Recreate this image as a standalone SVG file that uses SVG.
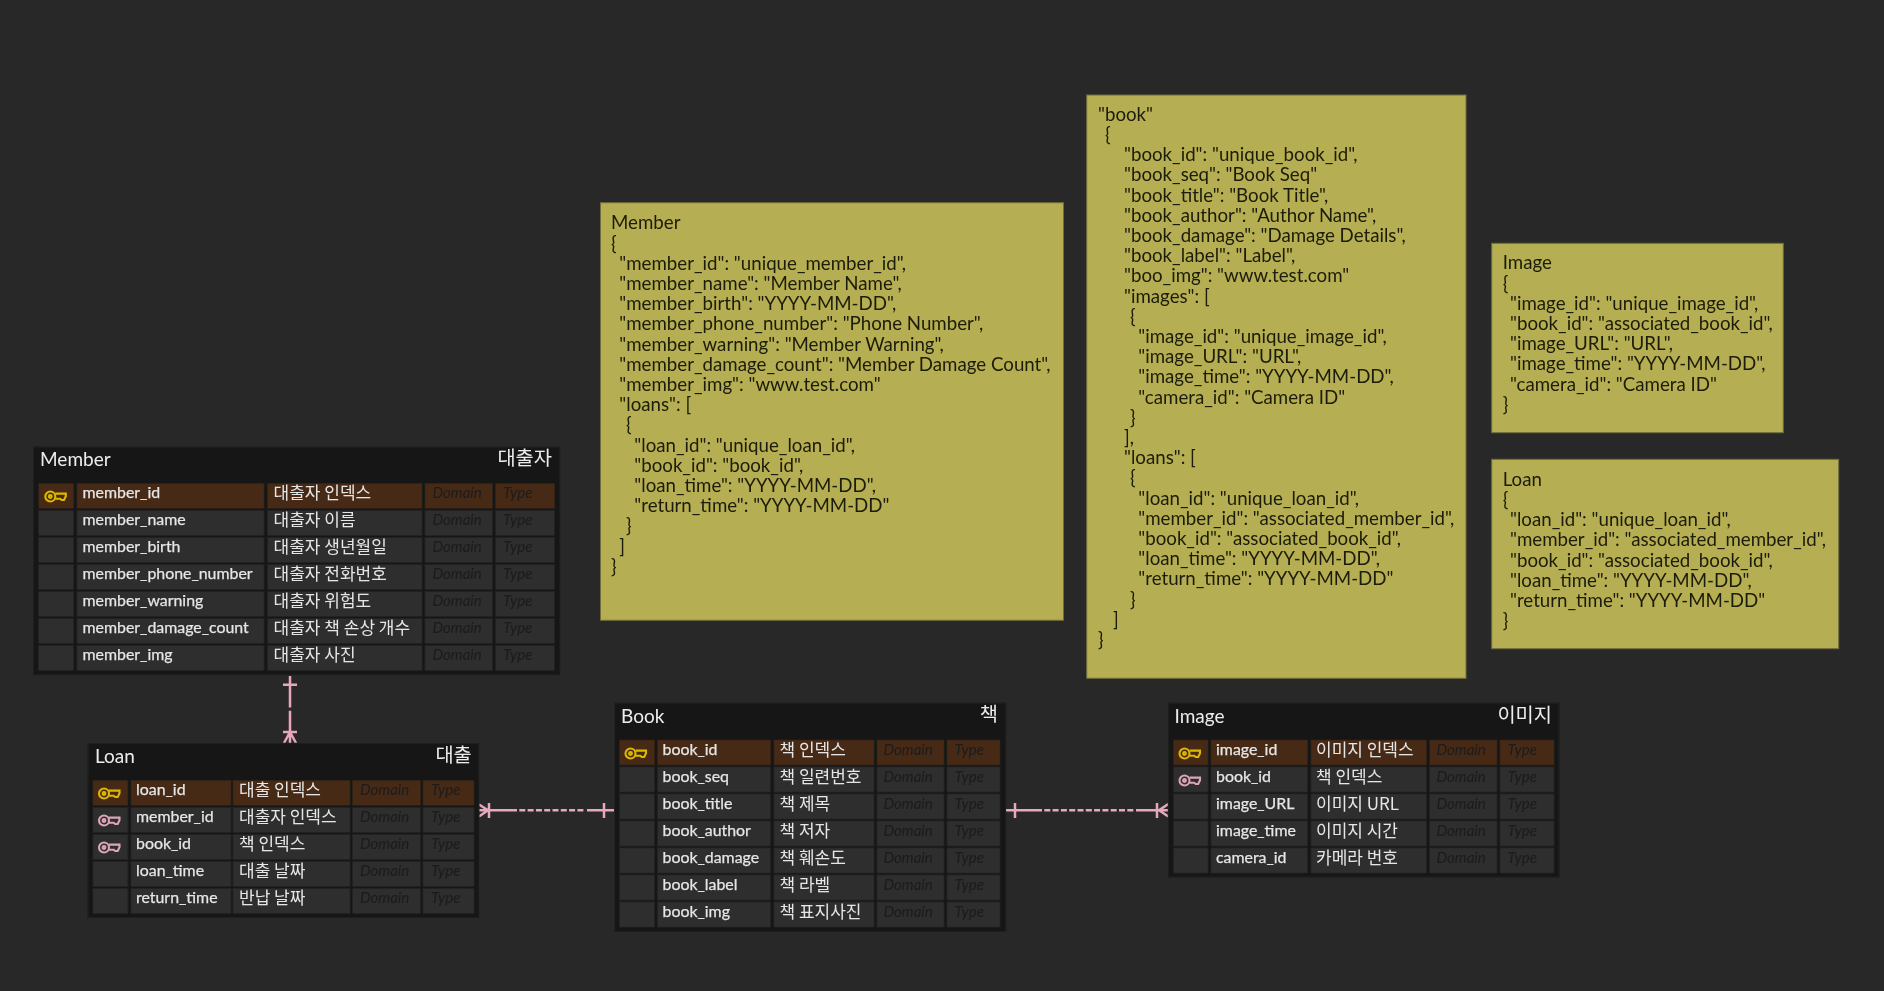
<svg xmlns="http://www.w3.org/2000/svg" width="1884" height="991" viewBox="0 0 1884 991">
<style>
text{font-family:"Lato","Noto Sans CJK KR",sans-serif;white-space:pre}
.tb{fill:#191919;stroke:#202020;stroke-width:1}
.c{fill:#2d2d2d;stroke:#222;stroke-width:.5}
.p{fill:#472a17;stroke:#2e2017;stroke-width:.5}
.t{font-size:19px;fill:#ececec}
.k{font-size:19.8px;fill:#ececec;text-anchor:end;font-family:"Noto Sans CJK KR",sans-serif}
.n{font-size:15.9px;fill:#e6e6e6;stroke:#e6e6e6;stroke-width:.25}
.m{font-size:17px;fill:#e6e6e6;font-family:"Noto Sans CJK KR",sans-serif}
.d{font-size:15px;fill:#1c1c1c;font-style:italic}
.note{fill:#b5ae52;stroke:#6f6c3e;stroke-width:1}
.j{font-size:18.7px;fill:#1d1c08}
.con{fill:none;stroke:#e8a8bb;stroke-width:2.5}
.yk{color:#dcb900}
.fk{color:#dba6b6}
</style>
<defs>
<filter id="soft" filterUnits="userSpaceOnUse" x="0" y="0" width="1884" height="991"><feGaussianBlur stdDeviation="0.45"/></filter>
<g id="key" fill="none" stroke="currentColor" stroke-width="2.1">
<circle cx="6" cy="6.5" r="5"/><circle cx="6" cy="6.5" r="1.4"/>
<path d="M11 3.6H21.5V6.2L19.7 10H17.2L15.8 8.8H11"/>
</g>
</defs>
<rect width="1884" height="991" fill="#282828"/>
<g filter="url(#soft)">

<g id="connectors" class="con">
<g id="member-loan">
<path d="M290 676V707.5M290 710.8V743M283 684.7H297M283 732H297M290 732L284 743M290 732L296 743"/>
</g>
<g id="loan-book">
<path d="M479 810.3H511M587 810.3H614.5M604 803V818M489 803V818M488 810.3L479 804.5M488 810.3L479 816.5"/>
<path d="M511 810.3H585" stroke-dasharray="6 2.3"/>
</g>
<g id="book-image">
<path d="M1005.6 810.3H1036M1136 810.3H1168.3M1015 803V818M1157 803V818M1159 810.3L1168.3 804M1159 810.3L1168.3 816.5"/>
<path d="M1036 810.3H1134" stroke-dasharray="6 2.3"/>
</g>
</g>

<g id="note-member">
<rect class="note" x="600.5" y="202.7" width="463" height="417.6"/>
<text class="j" x="611" y="229.3">Member</text>
<text class="j" x="611" y="249.5">{</text>
<text class="j" x="619.3" y="269.7">"member_id": "unique_member_id",</text>
<text class="j" x="619.3" y="289.9">"member_name": "Member Name",</text>
<text class="j" x="619.3" y="310.1">"member_birth": "YYYY-MM-DD",</text>
<text class="j" x="619.3" y="330.3">"member_phone_number": "Phone Number",</text>
<text class="j" x="619.3" y="350.5">"member_warning": "Member Warning",</text>
<text class="j" x="619.3" y="370.7">"member_damage_count": "Member Damage Count",</text>
<text class="j" x="619.3" y="390.9">"member_img": "www.test.com"</text>
<text class="j" x="619.3" y="411.1">"loans": [</text>
<text class="j" x="626" y="431.3">{</text>
<text class="j" x="634.3" y="451.5">"loan_id": "unique_loan_id",</text>
<text class="j" x="634.3" y="471.7">"book_id": "book_id",</text>
<text class="j" x="634.3" y="491.9">"loan_time": "YYYY-MM-DD",</text>
<text class="j" x="634.3" y="512.1">"return_time": "YYYY-MM-DD"</text>
<text class="j" x="626" y="532.3">}</text>
<text class="j" x="619.3" y="552.5">]</text>
<text class="j" x="611" y="572.7">}</text>
</g>

<g id="note-book">
<rect class="note" x="1086.7" y="95" width="379.3" height="583.3"/>
<text class="j" x="1098" y="120.7">"book"</text>
<text class="j" x="1105" y="140.9">{</text>
<text class="j" x="1124" y="161.1">"book_id": "unique_book_id",</text>
<text class="j" x="1124" y="181.3">"book_seq": "Book Seq"</text>
<text class="j" x="1124" y="201.5">"book_title": "Book Title",</text>
<text class="j" x="1124" y="221.7">"book_author": "Author Name",</text>
<text class="j" x="1124" y="241.9">"book_damage": "Damage Details",</text>
<text class="j" x="1124" y="262.1">"book_label": "Label",</text>
<text class="j" x="1124" y="282.3">"boo_img": "www.test.com"</text>
<text class="j" x="1124" y="302.5">"images": [</text>
<text class="j" x="1130" y="322.7">{</text>
<text class="j" x="1138.3" y="342.9">"image_id": "unique_image_id",</text>
<text class="j" x="1138.3" y="363.1">"image_URL": "URL",</text>
<text class="j" x="1138.3" y="383.3">"image_time": "YYYY-MM-DD",</text>
<text class="j" x="1138.3" y="403.5">"camera_id": "Camera ID"</text>
<text class="j" x="1130" y="423.7">}</text>
<text class="j" x="1124" y="443.9">],</text>
<text class="j" x="1124" y="464.1">"loans": [</text>
<text class="j" x="1130" y="484.3">{</text>
<text class="j" x="1138.3" y="504.5">"loan_id": "unique_loan_id",</text>
<text class="j" x="1138.3" y="524.7">"member_id": "associated_member_id",</text>
<text class="j" x="1138.3" y="544.9">"book_id": "associated_book_id",</text>
<text class="j" x="1138.3" y="565.1">"loan_time": "YYYY-MM-DD",</text>
<text class="j" x="1138.3" y="585.3">"return_time": "YYYY-MM-DD"</text>
<text class="j" x="1130" y="605.5">}</text>
<text class="j" x="1113" y="625.7">]</text>
<text class="j" x="1098" y="645.9">}</text>
</g>

<g id="note-image">
<rect class="note" x="1491.7" y="243.3" width="291.6" height="189.4"/>
<text class="j" x="1502.7" y="269.3">Image</text>
<text class="j" x="1502.7" y="289.5">{</text>
<text class="j" x="1510" y="309.7">"image_id": "unique_image_id",</text>
<text class="j" x="1510" y="329.9">"book_id": "associated_book_id",</text>
<text class="j" x="1510" y="350.1">"image_URL": "URL",</text>
<text class="j" x="1510" y="370.3">"image_time": "YYYY-MM-DD",</text>
<text class="j" x="1510" y="390.5">"camera_id": "Camera ID"</text>
<text class="j" x="1502.7" y="410.7">}</text>
</g>

<g id="note-loan">
<rect class="note" x="1491.7" y="459.3" width="347" height="189.4"/>
<text class="j" x="1502.7" y="485.7">Loan</text>
<text class="j" x="1502.7" y="505.9">{</text>
<text class="j" x="1510" y="526.1">"loan_id": "unique_loan_id",</text>
<text class="j" x="1510" y="546.3">"member_id": "associated_member_id",</text>
<text class="j" x="1510" y="566.5">"book_id": "associated_book_id",</text>
<text class="j" x="1510" y="586.7">"loan_time": "YYYY-MM-DD",</text>
<text class="j" x="1510" y="606.9">"return_time": "YYYY-MM-DD"</text>
<text class="j" x="1502.7" y="627.1">}</text>
</g>

<g id="table-member">
<rect class="tb" x="33.6" y="446.7" width="526.4" height="228.3"/>
<text class="t" x="40" y="466">Member</text><text class="k" x="552" y="465">대출자</text>
<rect class="p" x="38.6" y="483.3" width="35" height="25"/><rect class="p" x="77" y="483.3" width="187" height="25"/><rect class="p" x="267.5" y="483.3" width="154.5" height="25"/><rect class="p" x="425" y="483.3" width="67.5" height="25"/><rect class="p" x="495.4" y="483.3" width="59.2" height="25"/>
<use href="#key" class="yk" x="44.3" y="490"/>
<text class="n" x="82.5" y="498.3">member_id</text><text class="m" x="273.6" y="499">대출자 인덱스</text><text class="d" x="432.5" y="497.8">Domain</text><text class="d" x="503" y="497.8">Type</text>
<rect class="c" x="38.6" y="510.3" width="35" height="25"/><rect class="c" x="77" y="510.3" width="187" height="25"/><rect class="c" x="267.5" y="510.3" width="154.5" height="25"/><rect class="c" x="425" y="510.3" width="67.5" height="25"/><rect class="c" x="495.4" y="510.3" width="59.2" height="25"/>
<text class="n" x="82.5" y="525.3">member_name</text><text class="m" x="273.6" y="526">대출자 이름</text><text class="d" x="432.5" y="524.8">Domain</text><text class="d" x="503" y="524.8">Type</text>
<rect class="c" x="38.6" y="537.3" width="35" height="25"/><rect class="c" x="77" y="537.3" width="187" height="25"/><rect class="c" x="267.5" y="537.3" width="154.5" height="25"/><rect class="c" x="425" y="537.3" width="67.5" height="25"/><rect class="c" x="495.4" y="537.3" width="59.2" height="25"/>
<text class="n" x="82.5" y="552.3">member_birth</text><text class="m" x="273.6" y="553">대출자 생년월일</text><text class="d" x="432.5" y="551.8">Domain</text><text class="d" x="503" y="551.8">Type</text>
<rect class="c" x="38.6" y="564.3" width="35" height="25"/><rect class="c" x="77" y="564.3" width="187" height="25"/><rect class="c" x="267.5" y="564.3" width="154.5" height="25"/><rect class="c" x="425" y="564.3" width="67.5" height="25"/><rect class="c" x="495.4" y="564.3" width="59.2" height="25"/>
<text class="n" x="82.5" y="579.3">member_phone_number</text><text class="m" x="273.6" y="580">대출자 전화번호</text><text class="d" x="432.5" y="578.8">Domain</text><text class="d" x="503" y="578.8">Type</text>
<rect class="c" x="38.6" y="591.3" width="35" height="25"/><rect class="c" x="77" y="591.3" width="187" height="25"/><rect class="c" x="267.5" y="591.3" width="154.5" height="25"/><rect class="c" x="425" y="591.3" width="67.5" height="25"/><rect class="c" x="495.4" y="591.3" width="59.2" height="25"/>
<text class="n" x="82.5" y="606.3">member_warning</text><text class="m" x="273.6" y="607">대출자 위험도</text><text class="d" x="432.5" y="605.8">Domain</text><text class="d" x="503" y="605.8">Type</text>
<rect class="c" x="38.6" y="618.3" width="35" height="25"/><rect class="c" x="77" y="618.3" width="187" height="25"/><rect class="c" x="267.5" y="618.3" width="154.5" height="25"/><rect class="c" x="425" y="618.3" width="67.5" height="25"/><rect class="c" x="495.4" y="618.3" width="59.2" height="25"/>
<text class="n" x="82.5" y="633.3">member_damage_count</text><text class="m" x="273.6" y="634">대출자 책 손상 개수</text><text class="d" x="432.5" y="632.8">Domain</text><text class="d" x="503" y="632.8">Type</text>
<rect class="c" x="38.6" y="645.3" width="35" height="25"/><rect class="c" x="77" y="645.3" width="187" height="25"/><rect class="c" x="267.5" y="645.3" width="154.5" height="25"/><rect class="c" x="425" y="645.3" width="67.5" height="25"/><rect class="c" x="495.4" y="645.3" width="59.2" height="25"/>
<text class="n" x="82.5" y="660.3">member_img</text><text class="m" x="273.6" y="661">대출자 사진</text><text class="d" x="432.5" y="659.8">Domain</text><text class="d" x="503" y="659.8">Type</text>
</g>

<g id="table-loan">
<rect class="tb" x="87.9" y="743.3" width="391.1" height="174.4"/>
<text class="t" x="95" y="763.3">Loan</text><text class="k" x="471.8" y="762">대출</text>
<rect class="p" x="92.9" y="780.3" width="35" height="25"/><rect class="p" x="131" y="780.3" width="100" height="25"/><rect class="p" x="233" y="780.3" width="117" height="25"/><rect class="p" x="352.5" y="780.3" width="68.2" height="25"/><rect class="p" x="423" y="780.3" width="51" height="25"/>
<use href="#key" class="yk" x="98" y="787"/>
<text class="n" x="136" y="795.3">loan_id</text><text class="m" x="239" y="796">대출 인덱스</text><text class="d" x="360" y="794.8">Domain</text><text class="d" x="431" y="794.8">Type</text>
<rect class="c" x="92.9" y="807.3" width="35" height="25"/><rect class="c" x="131" y="807.3" width="100" height="25"/><rect class="c" x="233" y="807.3" width="117" height="25"/><rect class="c" x="352.5" y="807.3" width="68.2" height="25"/><rect class="c" x="423" y="807.3" width="51" height="25"/>
<use href="#key" class="fk" x="98" y="814"/>
<text class="n" x="136" y="822.3">member_id</text><text class="m" x="239" y="823">대출자 인덱스</text><text class="d" x="360" y="821.8">Domain</text><text class="d" x="431" y="821.8">Type</text>
<rect class="c" x="92.9" y="834.3" width="35" height="25"/><rect class="c" x="131" y="834.3" width="100" height="25"/><rect class="c" x="233" y="834.3" width="117" height="25"/><rect class="c" x="352.5" y="834.3" width="68.2" height="25"/><rect class="c" x="423" y="834.3" width="51" height="25"/>
<use href="#key" class="fk" x="98" y="841"/>
<text class="n" x="136" y="849.3">book_id</text><text class="m" x="239" y="850">책 인덱스</text><text class="d" x="360" y="848.8">Domain</text><text class="d" x="431" y="848.8">Type</text>
<rect class="c" x="92.9" y="861.3" width="35" height="25"/><rect class="c" x="131" y="861.3" width="100" height="25"/><rect class="c" x="233" y="861.3" width="117" height="25"/><rect class="c" x="352.5" y="861.3" width="68.2" height="25"/><rect class="c" x="423" y="861.3" width="51" height="25"/>
<text class="n" x="136" y="876.3">loan_time</text><text class="m" x="239" y="877">대출 날짜</text><text class="d" x="360" y="875.8">Domain</text><text class="d" x="431" y="875.8">Type</text>
<rect class="c" x="92.9" y="888.3" width="35" height="25"/><rect class="c" x="131" y="888.3" width="100" height="25"/><rect class="c" x="233" y="888.3" width="117" height="25"/><rect class="c" x="352.5" y="888.3" width="68.2" height="25"/><rect class="c" x="423" y="888.3" width="51" height="25"/>
<text class="n" x="136" y="903.3">return_time</text><text class="m" x="239" y="904">반납 날짜</text><text class="d" x="360" y="902.8">Domain</text><text class="d" x="431" y="902.8">Type</text>
</g>

<g id="table-book">
<rect class="tb" x="614.5" y="702.7" width="391.1" height="229"/>
<text class="t" x="621" y="722.7">Book</text><text class="k" x="998" y="721">책</text>
<rect class="p" x="619.5" y="740" width="35.2" height="25"/><rect class="p" x="657.4" y="740" width="113.3" height="25"/><rect class="p" x="774" y="740" width="100" height="25"/><rect class="p" x="877" y="740" width="67" height="25"/><rect class="p" x="947" y="740" width="53" height="25"/>
<use href="#key" class="yk" x="624.5" y="747"/>
<text class="n" x="662.5" y="755">book_id</text><text class="m" x="779.5" y="755.7">책 인덱스</text><text class="d" x="883.5" y="754.5">Domain</text><text class="d" x="954.5" y="754.5">Type</text>
<rect class="c" x="619.5" y="767" width="35.2" height="25"/><rect class="c" x="657.4" y="767" width="113.3" height="25"/><rect class="c" x="774" y="767" width="100" height="25"/><rect class="c" x="877" y="767" width="67" height="25"/><rect class="c" x="947" y="767" width="53" height="25"/>
<text class="n" x="662.5" y="782">book_seq</text><text class="m" x="779.5" y="782.7">책 일련번호</text><text class="d" x="883.5" y="781.5">Domain</text><text class="d" x="954.5" y="781.5">Type</text>
<rect class="c" x="619.5" y="794" width="35.2" height="25"/><rect class="c" x="657.4" y="794" width="113.3" height="25"/><rect class="c" x="774" y="794" width="100" height="25"/><rect class="c" x="877" y="794" width="67" height="25"/><rect class="c" x="947" y="794" width="53" height="25"/>
<text class="n" x="662.5" y="809">book_title</text><text class="m" x="779.5" y="809.7">책 제목</text><text class="d" x="883.5" y="808.5">Domain</text><text class="d" x="954.5" y="808.5">Type</text>
<rect class="c" x="619.5" y="821" width="35.2" height="25"/><rect class="c" x="657.4" y="821" width="113.3" height="25"/><rect class="c" x="774" y="821" width="100" height="25"/><rect class="c" x="877" y="821" width="67" height="25"/><rect class="c" x="947" y="821" width="53" height="25"/>
<text class="n" x="662.5" y="836">book_author</text><text class="m" x="779.5" y="836.7">책 저자</text><text class="d" x="883.5" y="835.5">Domain</text><text class="d" x="954.5" y="835.5">Type</text>
<rect class="c" x="619.5" y="848" width="35.2" height="25"/><rect class="c" x="657.4" y="848" width="113.3" height="25"/><rect class="c" x="774" y="848" width="100" height="25"/><rect class="c" x="877" y="848" width="67" height="25"/><rect class="c" x="947" y="848" width="53" height="25"/>
<text class="n" x="662.5" y="863">book_damage</text><text class="m" x="779.5" y="863.7">책 훼손도</text><text class="d" x="883.5" y="862.5">Domain</text><text class="d" x="954.5" y="862.5">Type</text>
<rect class="c" x="619.5" y="875" width="35.2" height="25"/><rect class="c" x="657.4" y="875" width="113.3" height="25"/><rect class="c" x="774" y="875" width="100" height="25"/><rect class="c" x="877" y="875" width="67" height="25"/><rect class="c" x="947" y="875" width="53" height="25"/>
<text class="n" x="662.5" y="890">book_label</text><text class="m" x="779.5" y="890.7">책 라벨</text><text class="d" x="883.5" y="889.5">Domain</text><text class="d" x="954.5" y="889.5">Type</text>
<rect class="c" x="619.5" y="902" width="35.2" height="25"/><rect class="c" x="657.4" y="902" width="113.3" height="25"/><rect class="c" x="774" y="902" width="100" height="25"/><rect class="c" x="877" y="902" width="67" height="25"/><rect class="c" x="947" y="902" width="53" height="25"/>
<text class="n" x="662.5" y="917">book_img</text><text class="m" x="779.5" y="917.7">책 표지사진</text><text class="d" x="883.5" y="916.5">Domain</text><text class="d" x="954.5" y="916.5">Type</text>
</g>

<g id="table-image">
<rect class="tb" x="1168.3" y="702.7" width="391" height="174.6"/>
<text class="t" x="1174.5" y="722.7">Image</text><text class="k" x="1552" y="721.5">이미지</text>
<rect class="p" x="1173.3" y="740" width="34.7" height="25"/><rect class="p" x="1211" y="740" width="96.7" height="25"/><rect class="p" x="1311" y="740" width="115.7" height="25"/><rect class="p" x="1429.7" y="740" width="67.3" height="25"/><rect class="p" x="1500" y="740" width="54" height="25"/>
<use href="#key" class="yk" x="1178.5" y="747"/>
<text class="n" x="1216" y="755">image_id</text><text class="m" x="1316" y="755.7">이미지 인덱스</text><text class="d" x="1436.5" y="754.5">Domain</text><text class="d" x="1507.5" y="754.5">Type</text>
<rect class="c" x="1173.3" y="767" width="34.7" height="25"/><rect class="c" x="1211" y="767" width="96.7" height="25"/><rect class="c" x="1311" y="767" width="115.7" height="25"/><rect class="c" x="1429.7" y="767" width="67.3" height="25"/><rect class="c" x="1500" y="767" width="54" height="25"/>
<use href="#key" class="fk" x="1178.5" y="774"/>
<text class="n" x="1216" y="782">book_id</text><text class="m" x="1316" y="782.7">책 인덱스</text><text class="d" x="1436.5" y="781.5">Domain</text><text class="d" x="1507.5" y="781.5">Type</text>
<rect class="c" x="1173.3" y="794" width="34.7" height="25"/><rect class="c" x="1211" y="794" width="96.7" height="25"/><rect class="c" x="1311" y="794" width="115.7" height="25"/><rect class="c" x="1429.7" y="794" width="67.3" height="25"/><rect class="c" x="1500" y="794" width="54" height="25"/>
<text class="n" x="1216" y="809">image_URL</text><text class="m" x="1316" y="809.7">이미지 URL</text><text class="d" x="1436.5" y="808.5">Domain</text><text class="d" x="1507.5" y="808.5">Type</text>
<rect class="c" x="1173.3" y="821" width="34.7" height="25"/><rect class="c" x="1211" y="821" width="96.7" height="25"/><rect class="c" x="1311" y="821" width="115.7" height="25"/><rect class="c" x="1429.7" y="821" width="67.3" height="25"/><rect class="c" x="1500" y="821" width="54" height="25"/>
<text class="n" x="1216" y="836">image_time</text><text class="m" x="1316" y="836.7">이미지 시간</text><text class="d" x="1436.5" y="835.5">Domain</text><text class="d" x="1507.5" y="835.5">Type</text>
<rect class="c" x="1173.3" y="848" width="34.7" height="25"/><rect class="c" x="1211" y="848" width="96.7" height="25"/><rect class="c" x="1311" y="848" width="115.7" height="25"/><rect class="c" x="1429.7" y="848" width="67.3" height="25"/><rect class="c" x="1500" y="848" width="54" height="25"/>
<text class="n" x="1216" y="863">camera_id</text><text class="m" x="1316" y="863.7">카메라 번호</text><text class="d" x="1436.5" y="862.5">Domain</text><text class="d" x="1507.5" y="862.5">Type</text>
</g>
</g>
</svg>
